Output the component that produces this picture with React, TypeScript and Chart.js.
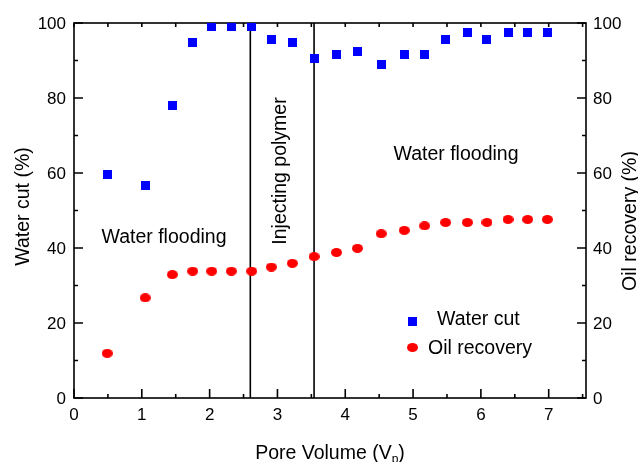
import React, { useEffect, useRef } from "react";
import { Chart, registerables } from "chart.js";

Chart.register(...registerables);

// Pore volume injected (V_p) at each sample
const poreVolume = [0.49, 1.05, 1.45, 1.75, 2.03, 2.32, 2.62, 2.91, 3.22, 3.54, 3.87, 4.18, 4.53, 4.87, 5.17, 5.48, 5.8, 6.09, 6.4, 6.69, 6.98];
// Water cut (%)
const waterCut = [59.7, 56.6, 78, 94.8, 99, 99, 99, 95.7, 94.8, 90.6, 91.6, 92.5, 89, 91.6, 91.6, 95.7, 97.5, 95.7, 97.5, 97.5, 97.5];
// Oil recovery (%)
const oilRecovery = [11.9, 26.7, 32.9, 33.8, 33.8, 33.8, 33.8, 34.9, 35.9, 37.7, 38.8, 39.9, 43.8, 44.7, 45.9, 46.8, 46.8, 46.8, 47.6, 47.6, 47.6];

// Stage boundaries (pore volume) where polymer injection starts and stops
const stageBounds = [2.6, 3.54];

const xTicks = [0, 1, 2, 3, 4, 5, 6, 7];
const yTicks = [0, 20, 40, 60, 80, 100];

const FONT = '"Liberation Sans", Arial, Helvetica, sans-serif';
const BLUE = "#0000ff";
const RED = "#ff0000";

function makeSquare(size: number, color: string) {
  const c = document.createElement("canvas");
  c.width = size;
  c.height = size;
  const g = c.getContext("2d")!;
  g.fillStyle = color;
  g.fillRect(0, 0, size, size);
  return c;
}

function makeEllipse(w: number, h: number, color: string) {
  const c = document.createElement("canvas");
  c.width = w;
  c.height = h;
  const g = c.getContext("2d")!;
  g.fillStyle = color;
  g.beginPath();
  g.ellipse(w / 2, h / 2, w / 2, h / 2, 0, 0, Math.PI * 2);
  g.fill();
  return c;
}

export default function App() {
  const ref = useRef<HTMLCanvasElement | null>(null);

  useEffect(() => {
    if (!ref.current) return;
    const square = makeSquare(9, BLUE);
    const ellipse = makeEllipse(11, 9, RED);

    const frame = {
      id: "frame",
      beforeDatasetsDraw(chart: any) {
        const { ctx, chartArea: a, scales } = chart;
        const x = scales.x;
        const y = scales.y;
        ctx.save();
        ctx.strokeStyle = "#000";
        ctx.lineWidth = 1.6;
        // stage boundary lines
        for (const b of stageBounds) {
          const px = x.getPixelForValue(b);
          ctx.beginPath();
          ctx.moveTo(px, a.top);
          ctx.lineTo(px, a.bottom);
          ctx.stroke();
        }
        // box
        ctx.strokeRect(a.left, a.top, a.right - a.left, a.bottom - a.top);
        // x ticks (inward)
        ctx.beginPath();
        for (let v = 0; v <= x.max + 1e-9; v += 0.5) {
          const px = x.getPixelForValue(v);
          const major = Math.abs(v - Math.round(v)) < 1e-9;
          ctx.moveTo(px, a.bottom);
          ctx.lineTo(px, a.bottom - (major ? 9 : 4));
          ctx.moveTo(px, a.top);
          ctx.lineTo(px, a.top + 4);
        }
        // y ticks (inward, both sides)
        for (let v = 0; v <= 100; v += 10) {
          const py = y.getPixelForValue(v);
          const len = v % 20 === 0 ? 9 : 4;
          ctx.moveTo(a.left, py);
          ctx.lineTo(a.left + len, py);
          ctx.moveTo(a.right, py);
          ctx.lineTo(a.right - len, py);
        }
        ctx.stroke();
        ctx.restore();
      },
      afterDatasetsDraw(chart: any) {
        const { ctx, chartArea: a, scales } = chart;
        const x = scales.x;
        const y = scales.y;
        const y1 = scales.y1;
        ctx.save();
        ctx.fillStyle = "#000";
        ctx.font = `17px ${FONT}`;
        // x tick labels
        ctx.textAlign = "center";
        ctx.textBaseline = "alphabetic";
        for (const t of xTicks) ctx.fillText(String(t), x.getPixelForValue(t), a.bottom + 22);
        // left tick labels
        ctx.textBaseline = "middle";
        ctx.textAlign = "right";
        for (const t of yTicks) ctx.fillText(String(t), a.left - 8, y.getPixelForValue(t) + 1);
        // right tick labels
        ctx.textAlign = "left";
        for (const t of yTicks) ctx.fillText(String(t), a.right + 7, y1.getPixelForValue(t) + 1);

        ctx.font = `19.5px ${FONT}`;
        ctx.textBaseline = "alphabetic";
        // stage annotations
        ctx.textAlign = "center";
        ctx.fillText("Water flooding", 164, 243);
        ctx.fillText("Water flooding", 456, 160);
        ctx.save();
        ctx.translate(286, 171);
        ctx.rotate(-Math.PI / 2);
        ctx.fillText("Injecting polymer", 0, 0);
        ctx.restore();

        // axis titles
        ctx.save();
        ctx.translate(28.5, 206.5);
        ctx.rotate(-Math.PI / 2);
        ctx.fillText("Water cut (%)", 0, 0);
        ctx.restore();
        ctx.save();
        ctx.translate(636, 221);
        ctx.rotate(-Math.PI / 2);
        ctx.fillText("Oil recovery (%)", 0, 0);
        ctx.restore();

        // x title with subscript
        const main = "Pore Volume (V";
        ctx.font = `19.5px ${FONT}`;
        const w1 = ctx.measureText(main).width;
        ctx.font = `12px ${FONT}`;
        const w2 = ctx.measureText("p").width;
        ctx.font = `19.5px ${FONT}`;
        const w3 = ctx.measureText(")").width;
        const total = w1 + w2 + w3;
        let sx = 330 - total / 2;
        const base = 459;
        ctx.textAlign = "left";
        ctx.fillText(main, sx, base);
        sx += w1;
        ctx.font = `12px ${FONT}`;
        ctx.fillText("p", sx, base + 4);
        sx += w2;
        ctx.font = `19.5px ${FONT}`;
        ctx.fillText(")", sx, base);

        // legend
        ctx.drawImage(square, 408, 317);
        ctx.fillText("Water cut", 437, 325);
        ctx.drawImage(ellipse, 407, 343);
        ctx.fillText("Oil recovery", 428, 354);
        ctx.restore();
      },
    };

    const chart = new Chart(ref.current, {
      type: "scatter",
      data: {
        datasets: [
          {
            label: "Water cut",
            data: poreVolume.map((v, i) => ({ x: v, y: waterCut[i] })),
            pointStyle: square as any,
            yAxisID: "y",
            backgroundColor: BLUE,
            borderColor: BLUE,
          },
          {
            label: "Oil recovery",
            data: poreVolume.map((v, i) => ({ x: v, y: oilRecovery[i] })),
            pointStyle: ellipse as any,
            yAxisID: "y1",
            backgroundColor: RED,
            borderColor: RED,
          },
        ],
      },
      options: {
        responsive: false,
        animation: false,
        devicePixelRatio: 1,
        layout: { padding: { left: 74, right: 52, top: 23, bottom: 64 } },
        plugins: { legend: { display: false }, tooltip: { enabled: false } },
        scales: {
          x: { type: "linear", min: 0, max: 7.55, display: false },
          y: { type: "linear", min: 0, max: 100, display: false },
          y1: { type: "linear", min: 0, max: 100, display: false, position: "right" },
        },
      },
      plugins: [frame],
    });
    return () => chart.destroy();
  }, []);

  return (
    <div style={{ position: "absolute", left: 0, top: 0, width: 638, height: 462, background: "#fff" }}>
      <canvas ref={ref} width={638} height={462} />
    </div>
  );
}
